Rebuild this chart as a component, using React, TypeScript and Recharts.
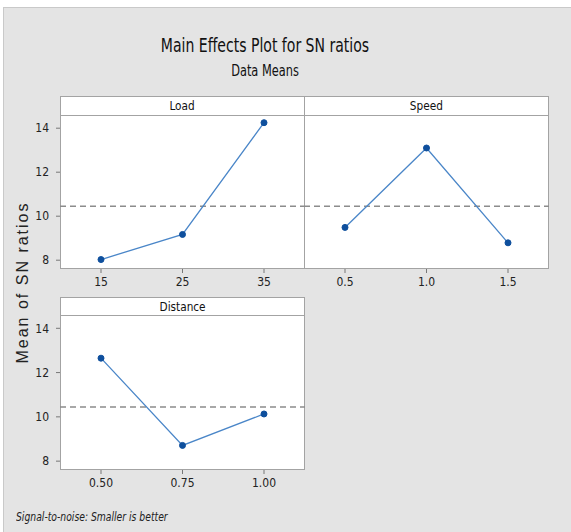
import { LineChart, Line, XAxis, YAxis, ReferenceLine } from 'recharts';

const loadLevels = ['15', '25', '35'];
const loadMeans = [8.03, 9.17, 14.25];
const speedLevels = ['0.5', '1.0', '1.5'];
const speedMeans = [9.49, 13.1, 8.79];
const distanceLevels = ['0.50', '0.75', '1.00'];
const distanceMeans = [12.65, 8.71, 10.13];
const grandMean = 10.45;
const yTicks = [8, 10, 12, 14];

const NARROW = '"Liberation Sans Narrow", "DejaVu Sans Condensed", "Liberation Sans", sans-serif';
const BORDER = '#a3a3a3';
const LINE = '#4a86c8';
const DOT = '#0e4f9d';

type PanelProps = {
    left: number;
    top: number;
    headerH: number;
    plotH: number;
    title: string;
    levels: string[];
    means: number[];
    showY: boolean;
};

const Panel = ({ left, top, headerH, plotH, title, levels, means, showY }: PanelProps) => {
    const w = 245;
    const yW = showY ? 60 : 0;
    const data = levels.map((level, i) => ({ level, mean: means[i] }));
    const plotTop = top + headerH;
    return (
        <>
            <div style={{
                position: 'absolute', left, top, width: w, height: headerH + 1, boxSizing: 'border-box',
                background: '#fff', border: `1px solid ${BORDER}`, textAlign: 'center',
                fontFamily: NARROW, fontSize: 13, lineHeight: `${headerH - 1}px`, color: '#111',
            }}>
                <span style={{ display: 'inline-block', transform: 'scaleX(0.9)' }}>{title}</span>
            </div>
            <div style={{
                position: 'absolute', left, top: plotTop, width: w, height: plotH, boxSizing: 'border-box',
                background: '#fff', border: `1px solid ${BORDER}`,
            }} />
            <LineChart
                width={w + yW}
                height={plotH + 30}
                data={data}
                margin={{ top: 0, right: 0, bottom: 0, left: 0 }}
                style={{ position: 'absolute', left: left - yW, top: plotTop }}
            >
                <XAxis
                    dataKey="level"
                    height={30}
                    interval={0}
                    padding={{ left: 41, right: 41 }}
                    axisLine={false}
                    tickLine={{ stroke: '#777' }}
                    tickSize={4}
                    tickMargin={4}
                    tick={{ fontSize: 12, fill: '#222', fontFamily: NARROW }}
                />
                <YAxis
                    hide={!showY}
                    width={60}
                    type="number"
                    domain={[7.6, 14.6]}
                    ticks={yTicks}
                    axisLine={false}
                    tickLine={{ stroke: '#777' }}
                    tickSize={4}
                    tickMargin={7}
                    tick={{ fontSize: 12, fill: '#222', fontFamily: NARROW }}
                />
                <ReferenceLine y={grandMean} stroke="#8c8c8c" strokeWidth={1.5} strokeDasharray="6 4" />
                <Line
                    dataKey="mean"
                    stroke={LINE}
                    strokeWidth={1.3}
                    dot={{ r: 3, fill: DOT, stroke: DOT, strokeWidth: 1 }}
                    isAnimationActive={false}
                />
            </LineChart>
        </>
    );
};

export default function App() {
    return (
        <div style={{ position: 'absolute', left: 0, top: 0, width: 571, height: 532, background: '#fff', overflow: 'hidden' }}>
            <div style={{
                position: 'absolute', left: 3, top: 7, width: 580, height: 540,
                background: '#e4e4e4', border: '1px solid #c9c9c9',
            }} />
            <div style={{
                position: 'absolute', left: 0, top: 35, width: 530, textAlign: 'center',
                fontFamily: NARROW, fontSize: 20, lineHeight: '20px', color: '#111',
                transform: 'scaleX(0.78)', transformOrigin: '265px 0',
            }}>Main Effects Plot for SN ratios</div>
            <div style={{
                position: 'absolute', left: 0, top: 63, width: 530, textAlign: 'center',
                fontFamily: NARROW, fontSize: 16, lineHeight: '16px', color: '#111',
                transform: 'scaleX(0.79)', transformOrigin: '265px 0',
            }}>Data Means</div>

            <Panel left={60} top={96} headerH={19} plotH={154} title="Load" levels={loadLevels} means={loadMeans} showY />
            <Panel left={304} top={96} headerH={19} plotH={154} title="Speed" levels={speedLevels} means={speedMeans} showY={false} />
            <Panel left={60} top={297} headerH={18} plotH={155} title="Distance" levels={distanceLevels} means={distanceMeans} showY />

            <svg width={571} height={532} style={{ position: 'absolute', left: 0, top: 0, pointerEvents: 'none' }}>
                <text
                    x={22}
                    y={282.5}
                    transform="rotate(-90 22 282.5)"
                    textAnchor="middle"
                    dominantBaseline="central"
                    fontFamily='"Liberation Sans", sans-serif'
                    fontSize={16}
                    letterSpacing={2}
                    fill="#222"
                >Mean of SN ratios</text>
            </svg>

            <div style={{
                position: 'absolute', left: 16, top: 510, fontFamily: NARROW, fontStyle: 'italic',
                fontSize: 13, lineHeight: '13px', color: '#222', whiteSpace: 'nowrap',
                transform: 'scaleX(0.79)', transformOrigin: '0 0',
            }}>Signal-to-noise: Smaller is better</div>
        </div>
    );
}
